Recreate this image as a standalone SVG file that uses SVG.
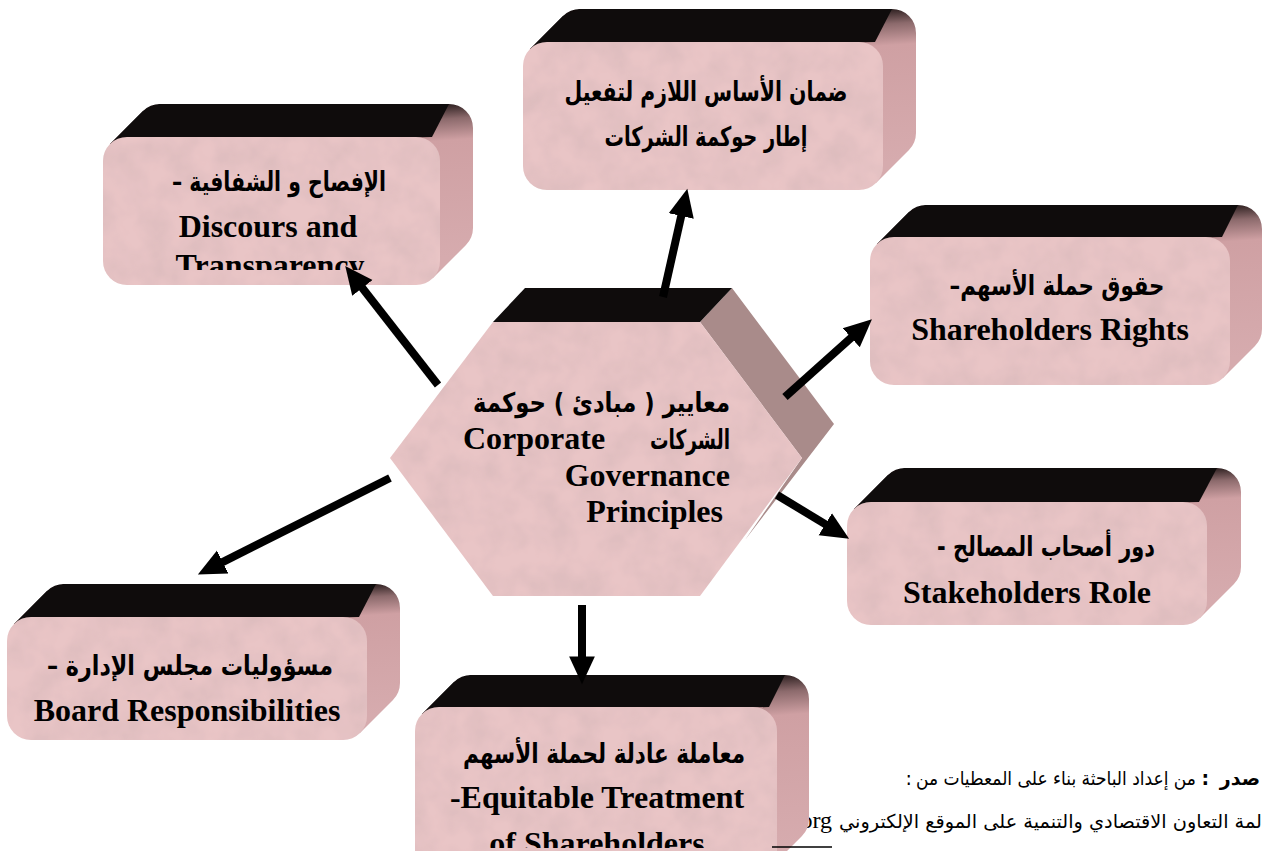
<svg xmlns="http://www.w3.org/2000/svg" width="1264" height="851" viewBox="0 0 1264 851">
<defs>
<linearGradient id="side" x1="0" y1="0" x2="0.15" y2="1">
<stop offset="0" stop-color="#0d0909"/>
<stop offset="0.12" stop-color="#1c1212"/>
<stop offset="0.22" stop-color="#8c6a6c"/>
<stop offset="0.34" stop-color="#cfa0a3"/>
<stop offset="1" stop-color="#d6abae"/>
</linearGradient>
<filter id="tex" x="0" y="0" width="1" height="1">
<feTurbulence type="fractalNoise" baseFrequency="0.035" numOctaves="3" seed="5" result="n"/>
<feColorMatrix in="n" type="matrix" values="0 0 0 0 0.62  0 0 0 0 0.45  0 0 0 0 0.46  0 0 0 0.8 -0.25" result="c"/>
<feComposite in="c" in2="SourceGraphic" operator="in" result="m"/>
<feMerge><feMergeNode in="SourceGraphic"/><feMergeNode in="m"/></feMerge>
</filter>
<marker id="ah" markerUnits="userSpaceOnUse" markerWidth="30" markerHeight="30" viewBox="0 -13 28 26" refX="8" refY="0" orient="auto">
<path d="M0,-12 L26,0 L0,12 Z" fill="#000"/>
</marker>
<clipPath id="c1"><rect x="100" y="100" width="400" height="170"/></clipPath>
<clipPath id="c6"><rect x="410" y="670" width="400" height="178"/></clipPath>
</defs>
<style>
.front{fill:#e9c5c6;filter:url(#tex)}
.sweep{fill:url(#side)}
.top{fill:#0f0c0c}
.hside{fill:#a98b8a}
.ar{font-family:"DejaVu Sans",sans-serif;font-weight:bold;font-size:27px;fill:#000}
.en{font-family:"Liberation Serif","Times New Roman",serif;font-weight:bold;font-size:32px;fill:#000}
.src{font-family:"DejaVu Sans",sans-serif;font-size:19px;fill:#000}
.srcen{font-family:"Liberation Serif",serif;font-size:24px;fill:#000}
.conn{stroke:#000;stroke-width:8;fill:none;marker-end:url(#ah)}
</style>
<rect width="1264" height="851" fill="#fff"/>

<g id="source">
<text class="src" x="1260" y="785" text-anchor="end" font-weight="bold" font-size="16">صدر</text>
<text class="src" x="1209" y="785" text-anchor="end" font-weight="bold">:</text>
<text class="src" x="1196" y="785" text-anchor="end" textLength="280" lengthAdjust="spacingAndGlyphs">من إعداد الباحثة بناء على المعطيات من</text>
<text class="src" x="912" y="785" text-anchor="end">:</text>
<text class="src" x="1262" y="828" text-anchor="end" textLength="423" lengthAdjust="spacingAndGlyphs">لمة التعاون الاقتصادي والتنمية على الموقع الإلكتروني</text>
<text class="srcen" x="832" y="828" text-anchor="end">.org</text>
</g>

<g id="node-disclosure">
<path class="sweep" d="M160,104 H449 A24,24 0 0 1 473,128 V228 A24,24 0 0 1 449,252 H160 A24,24 0 0 1 136,228 V128 A24,24 0 0 1 160,104 Z M110,144 L143,111 L466,245 L433,278 Z"/>
<polygon class="top" points="110,144 143,111 160,104 449,104 432,137"/>
<rect class="front" x="103" y="137" width="337" height="148" rx="24"/>
<text class="ar" x="279" y="191" direction="rtl" text-anchor="middle" textLength="214" lengthAdjust="spacingAndGlyphs">الإفصاح و الشفافية –</text>
<text class="en" x="268" y="237" text-anchor="middle">Discours and</text>
<text class="en" x="270" y="276" text-anchor="middle" clip-path="url(#c1)">Transparency</text>
</g>

<g id="node-basis">
<path class="sweep" d="M580,9 H892 A24,24 0 0 1 916,33 V133 A24,24 0 0 1 892,157 H580 A24,24 0 0 1 556,133 V33 A24,24 0 0 1 580,9 Z M530,49 L563,16 L909,150 L876,183 Z"/>
<polygon class="top" points="530,49 563,16 580,9 892,9 875,42"/>
<rect class="front" x="523" y="42" width="360" height="148" rx="24"/>
<text class="ar" x="706" y="101" direction="rtl" text-anchor="middle" textLength="283" lengthAdjust="spacingAndGlyphs">ضمان الأساس اللازم لتفعيل</text>
<text class="ar" x="706" y="146" direction="rtl" text-anchor="middle" textLength="203" lengthAdjust="spacingAndGlyphs">إطار حوكمة الشركات</text>
</g>

<g id="node-rights">
<path class="sweep" d="M926,205 H1238 A24,24 0 0 1 1262,229 V329 A24,24 0 0 1 1238,353 H926 A24,24 0 0 1 902,329 V229 A24,24 0 0 1 926,205 Z M877,244 L909,212 L1255,346 L1223,378 Z"/>
<polygon class="top" points="877,244 909,212 926,205 1238,205 1222,237"/>
<rect class="front" x="870" y="237" width="360" height="148" rx="24"/>
<text class="ar" x="1057" y="295" direction="rtl" text-anchor="middle" textLength="215" lengthAdjust="spacingAndGlyphs">حقوق حملة الأسهم–</text>
<text class="en" x="1050" y="340" text-anchor="middle">Shareholders Rights</text>
</g>

<g id="node-stakeholders">
<path class="sweep" d="M905,468 H1217 A24,24 0 0 1 1241,492 V567 A24,24 0 0 1 1217,591 H905 A24,24 0 0 1 881,567 V492 A24,24 0 0 1 905,468 Z M854,509 L888,475 L1234,584 L1200,618 Z"/>
<polygon class="top" points="854,509 888,475 905,468 1217,468 1199,502"/>
<rect class="front" x="847" y="502" width="360" height="123" rx="24"/>
<text class="ar" x="1046" y="556" direction="rtl" text-anchor="middle" textLength="218" lengthAdjust="spacingAndGlyphs">دور أصحاب المصالح -</text>
<text class="en" x="1027" y="603" text-anchor="middle">Stakeholders Role</text>
</g>

<g id="node-board">
<path class="sweep" d="M64,584 H376 A24,24 0 0 1 400,608 V683 A24,24 0 0 1 376,707 H64 A24,24 0 0 1 40,683 V608 A24,24 0 0 1 64,584 Z M14,624 L47,591 L393,700 L360,733 Z"/>
<polygon class="top" points="14,624 47,591 64,584 376,584 359,617"/>
<rect class="front" x="7" y="617" width="360" height="123" rx="24"/>
<text class="ar" x="190" y="675" direction="rtl" text-anchor="middle" textLength="286" lengthAdjust="spacingAndGlyphs">مسؤوليات مجلس الإدارة –</text>
<text class="en" x="187" y="721" text-anchor="middle">Board Responsibilities</text>
</g>

<g id="node-equitable">
<path class="sweep" d="M471,675 H785 A24,24 0 0 1 809,699 V819 A24,24 0 0 1 785,843 H471 A24,24 0 0 1 447,819 V699 A24,24 0 0 1 471,675 Z M422,714 L454,682 L802,836 L770,868 Z"/>
<polygon class="top" points="422,714 454,682 471,675 785,675 769,707"/>
<rect class="front" x="415" y="707" width="362" height="168" rx="24"/>
<text class="ar" x="604" y="763" direction="rtl" text-anchor="middle" textLength="282" lengthAdjust="spacingAndGlyphs">معاملة عادلة لحملة الأسهم</text>
<text class="en" x="597" y="808" text-anchor="middle">-Equitable Treatment</text>
<text class="en" x="597" y="854" text-anchor="middle" clip-path="url(#c6)">of Shareholders</text>
</g>

<line x1="772" y1="847" x2="832" y2="847" stroke="#000" stroke-width="1.5"/>

<g id="node-center">
<polygon class="hside" points="700,322 732,288 834,424 745,540 802,458"/>
<polygon class="top" points="493,322 525,288 732,288 700,322"/>
<polygon class="front" points="493,322 700,322 802,458 700,596 493,596 390,458"/>
<text class="ar" x="730" y="412" direction="rtl" text-anchor="start" textLength="257" lengthAdjust="spacingAndGlyphs">معايير ( مبادئ ) حوكمة</text>
<text class="ar" x="730" y="449" direction="rtl" text-anchor="start" textLength="80" lengthAdjust="spacingAndGlyphs">الشركات</text>
<text class="en" x="463" y="449">Corporate</text>
<text class="en" x="730" y="486" text-anchor="end">Governance</text>
<text class="en" x="723" y="522" text-anchor="end">Principles</text>
</g>

<g id="connectors">
<line class="conn" x1="663" y1="297" x2="683.1" y2="207.6"/>
<line class="conn" x1="438" y1="385" x2="357.1" y2="281.2"/>
<line class="conn" x1="785" y1="397" x2="857.6" y2="332"/>
<line class="conn" x1="777" y1="495" x2="832.6" y2="528.7"/>
<line class="conn" x1="390" y1="478" x2="215.1" y2="565.9"/>
<line class="conn" x1="582" y1="605" x2="582" y2="665"/>
</g>
</svg>
